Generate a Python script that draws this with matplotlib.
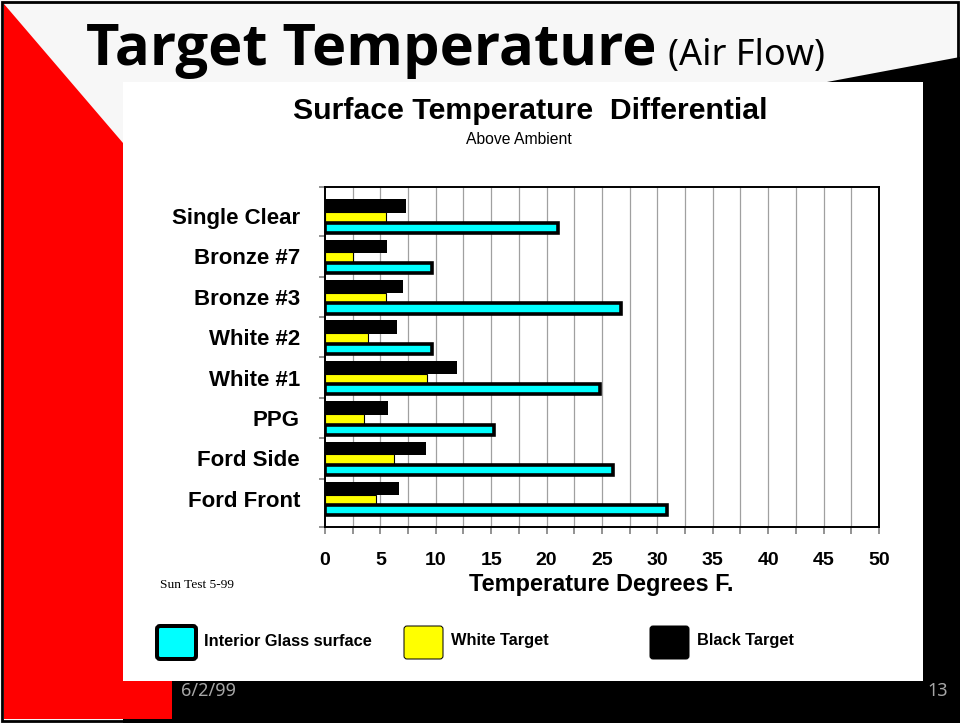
import numpy as np
import matplotlib.pyplot as plt
from matplotlib.patches import Polygon, Rectangle, FancyBboxPatch

# data
categories = ['Single Clear', 'Bronze #7', 'Bronze #3', 'White #2',
              'White #1', 'PPG', 'Ford Side', 'Ford Front']
interior_glass = [21.0, 9.7, 26.7, 9.7, 24.8, 15.3, 26.0, 30.9]
white_target = [5.5, 2.5, 5.5, 3.9, 9.2, 3.5, 6.2, 4.6]
black_target = [7.3, 5.6, 7.0, 6.5, 11.9, 5.7, 9.1, 6.7]
x_ticks = [0, 5, 10, 15, 20, 25, 30, 35, 40, 45, 50]

fig = plt.figure(figsize=(9.6, 7.23), dpi=100)
fig.patch.set_facecolor('#f7f7f7')

# slide background drawn in pixel coordinates
bg = fig.add_axes([0, 0, 1, 1], zorder=0)
bg.set_xlim(0, 960)
bg.set_ylim(723, 0)
bg.axis('off')

bg.add_patch(Polygon([(827, 82), (960, 57), (960, 723), (123, 723), (123, 82)],
                     closed=True, color='black', lw=0))
bg.add_patch(Rectangle((123, 82), 800, 599, color='white', lw=0))
bg.add_patch(Polygon([(4, 4), (123, 143), (123, 681), (172, 681), (172, 719), (4, 719)],
                     closed=True, color='#ff0000', lw=0))
bg.add_patch(Rectangle((2, 2), 956, 719, fill=False, ec='black', lw=2))

bg.text(86, 65, 'Target Temperature', fontsize=41.7, fontweight='bold',
        family='Open Sans', va='baseline', ha='left')
bg.text(668, 65, '(Air Flow)', fontsize=26, family='Noto Sans',
        va='baseline', ha='left')
bg.text(181, 691, '6/2/99', fontsize=13, family='Noto Sans', color='#a6a6a6',
        va='center', ha='left')
bg.text(948, 691, '13', fontsize=13, family='Noto Sans', color='#a6a6a6',
        va='center', ha='right')

# chart texts
bg.text(530, 111, 'Surface Temperature  Differential', fontsize=21.8,
        fontweight='bold', family='Liberation Sans', ha='center', va='center')
bg.text(519, 140, 'Above Ambient', fontsize=11.3, family='Liberation Sans',
        ha='center', va='center')
bg.text(601, 585, 'Temperature Degrees F.', fontsize=16.9, fontweight='bold',
        family='Liberation Sans', ha='center', va='center')
bg.text(160, 585, 'Sun Test 5-99', fontsize=9.6, family='Liberation Serif',
        ha='left', va='center')

# legend
legend_items = [('Interior Glass surface', '#00ffff', 4.0, 157),
                ('White Target', '#ffff00', 1.0, 404),
                ('Black Target', 'black', 1.0, 650)]
for label, col, lw, x0 in legend_items:
    bg.add_patch(FancyBboxPatch((x0, 626), 39, 33, boxstyle='round,pad=0,rounding_size=3',
                                fc=col, ec='black', lw=lw * 0.72))
    bg.text(x0 + 47, 641, label, fontsize=11.8, fontweight='bold',
            family='Liberation Sans', ha='left', va='center')

# the bar chart
ax = fig.add_axes([0.3385, 0.2711, 0.5771, 0.4703], zorder=1)
ax.set_facecolor('white')
y = np.arange(len(categories))

ax.barh(y - 0.25, black_target, height=0.33, color='black', lw=0, zorder=3)
ax.barh(y + 0.04, white_target, height=0.28, color='#ffff00',
        edgecolor='black', lw=0.8, zorder=4)
ax.barh(y + 0.29, interior_glass, height=0.25, color='#00ffff',
        edgecolor='black', lw=2.6, zorder=5)

ax.set_xlim(0, 50)
ax.set_ylim(7.7, -0.72)
ax.set_xticks(x_ticks)
ax.set_xticks(np.arange(2.5, 50, 5), minor=True)
ax.set_xticklabels([str(v) for v in x_ticks], fontsize=14, fontweight='bold',
                   family='Liberation Sans')
ax.set_yticks(y)
ax.set_yticklabels(categories, fontsize=16, fontweight='bold',
                   family='Liberation Sans')
ax.set_yticks(list(np.arange(0.5, 7.5, 1)) + [-0.72, 7.7], minor=True)

ax.tick_params(axis='y', which='major', length=0, pad=18)
ax.tick_params(axis='y', which='minor', length=4, color='#808080', width=1.2)
ax.tick_params(axis='x', which='both', length=5, color='#808080', width=1.2, pad=13)

for g in np.arange(2.5, 50, 2.5):
    ax.axvline(g, color='#a0a0a0', lw=0.9, zorder=1)

for s in ax.spines.values():
    s.set_color('black')
    s.set_linewidth(1.4)

fig.savefig('out.png', dpi=100, facecolor=fig.get_facecolor())
